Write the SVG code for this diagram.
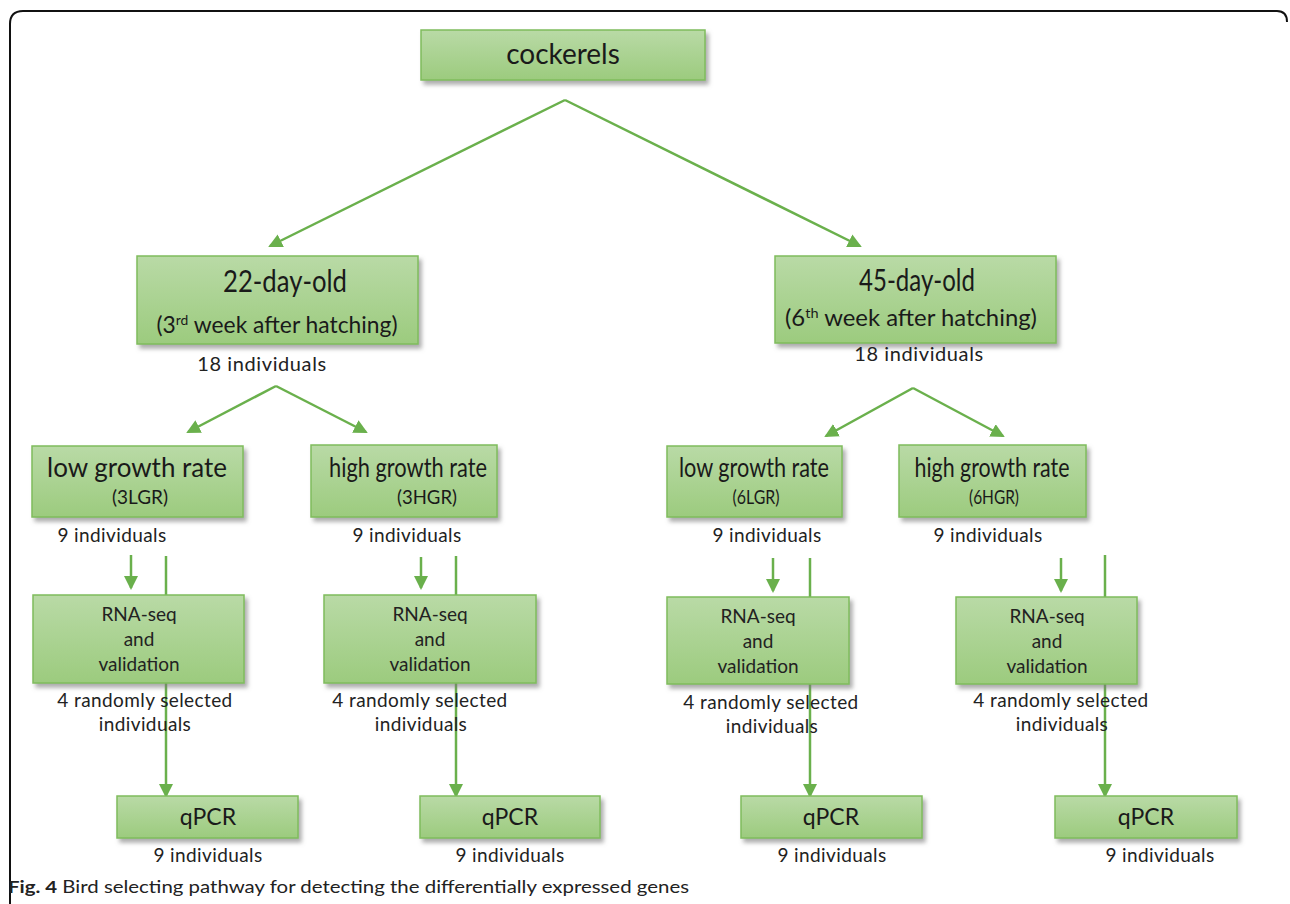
<svg xmlns="http://www.w3.org/2000/svg" width="1290" height="904" viewBox="0 0 1290 904">
<defs>
<linearGradient id="g" x1="0" y1="0" x2="0" y2="1">
<stop offset="0" stop-color="#b9daa6"/>
<stop offset="1" stop-color="#9ccb7e"/>
</linearGradient>
<filter id="sh" x="-10%" y="-10%" width="125%" height="140%">
<feDropShadow dx="3" dy="4" stdDeviation="2.2" flood-color="#777" flood-opacity="0.6"/>
</filter>
<marker id="ah" markerWidth="14" markerHeight="14" refX="12" refY="7" orient="auto" markerUnits="userSpaceOnUse">
<path d="M0,0 L14,7 L0,14 Z" fill="#6ab04c"/>
</marker>
</defs>
<style>
.box{fill:url(#g);stroke:#7fbc5c;stroke-width:1.5;filter:url(#sh)}
.t{font-family:Lato,"Open Sans",sans-serif;fill:#1a1a1a;text-anchor:middle}
.lbl{font-family:Lato,"Open Sans",sans-serif;fill:#222;text-anchor:middle;font-size:19px;letter-spacing:0.4px}
.lb2{font-family:Lato,"Open Sans",sans-serif;fill:#222;text-anchor:middle;font-size:20px;letter-spacing:0.6px}
.rn{font-family:Lato,"Open Sans",sans-serif;fill:#222;text-anchor:middle;font-size:19px}
.c{stroke:#6ab04c;stroke-width:2.5;fill:none}
.ca{stroke:#6ab04c;stroke-width:2.5;fill:none;marker-end:url(#ah)}
</style>
<rect width="1290" height="904" fill="#fff"/>
<path d="M10,904 L10,24 Q10,11 23,11 L1277,11 Q1287,11 1287,22" fill="none" stroke="#111" stroke-width="2"/>
<g id="connectors">
<line class="ca" x1="565" y1="100" x2="270" y2="246"/>
<line class="ca" x1="565" y1="100" x2="860" y2="246"/>
<line class="ca" x1="276" y1="386" x2="188" y2="432"/>
<line class="ca" x1="276" y1="386" x2="366" y2="432"/>
<line class="ca" x1="913" y1="388" x2="826" y2="436"/>
<line class="ca" x1="913" y1="388" x2="1003" y2="436"/>
<line class="ca" x1="131" y1="555" x2="131" y2="588"/>
<line class="ca" x1="421" y1="557" x2="421" y2="588"/>
<line class="ca" x1="773" y1="558" x2="773" y2="591"/>
<line class="ca" x1="1061" y1="558" x2="1061" y2="591"/>
<line class="ca" x1="166" y1="556" x2="166" y2="796"/>
<line class="ca" x1="456" y1="556" x2="456" y2="796"/>
<line class="ca" x1="810" y1="558" x2="810" y2="796"/>
<line class="ca" x1="1105" y1="555" x2="1105" y2="796"/>
</g>
<g id="cockerels">
<rect class="box" x="421" y="30" width="284" height="50"/>
<text class="t" x="563" y="64" font-size="28">cockerels</text>
</g>
<g id="day22">
<rect class="box" x="137" y="256" width="281" height="88"/>
<text class="t" x="285" y="292" font-size="30" textLength="124" lengthAdjust="spacingAndGlyphs">22-day-old</text>
<text class="t" x="277" y="333" font-size="23" textLength="241" lengthAdjust="spacingAndGlyphs">(3<tspan font-size="14" dy="-8">rd</tspan><tspan dy="8"> week after hatching)</tspan></text>
<text class="lb2" x="262" y="371">18 individuals</text>
</g>
<g id="day45">
<rect class="box" x="775" y="256" width="281" height="87"/>
<text class="t" x="917" y="291" font-size="30" textLength="116" lengthAdjust="spacingAndGlyphs">45-day-old</text>
<text class="t" x="911" y="326" font-size="23" textLength="252" lengthAdjust="spacingAndGlyphs">(6<tspan font-size="14" dy="-8">th</tspan><tspan dy="8"> week after hatching)</tspan></text>
<text class="lb2" x="919" y="361">18 individuals</text>
</g>
<g id="lgr3">
<rect class="box" x="32" y="446" width="211" height="71"/>
<text class="t" x="137" y="477" font-size="26" textLength="180" lengthAdjust="spacingAndGlyphs">low growth rate</text>
<text class="t" x="140" y="504" font-size="19" textLength="56" lengthAdjust="spacingAndGlyphs">(3LGR)</text>
<text class="lbl" x="112" y="542">9 individuals</text>
</g>
<g id="hgr3">
<rect class="box" x="311" y="445" width="186" height="72"/>
<text class="t" x="408" y="477" font-size="26" textLength="158" lengthAdjust="spacingAndGlyphs">high growth rate</text>
<text class="t" x="427" y="504" font-size="19" textLength="60" lengthAdjust="spacingAndGlyphs">(3HGR)</text>
<text class="lbl" x="407" y="542">9 individuals</text>
</g>
<g id="lgr6">
<rect class="box" x="667" y="446" width="175" height="71"/>
<text class="t" x="754" y="477" font-size="26" textLength="150" lengthAdjust="spacingAndGlyphs">low growth rate</text>
<text class="t" x="756" y="504" font-size="19" textLength="47" lengthAdjust="spacingAndGlyphs">(6LGR)</text>
<text class="lbl" x="767" y="542">9 individuals</text>
</g>
<g id="hgr6">
<rect class="box" x="899" y="445" width="187" height="72"/>
<text class="t" x="992" y="477" font-size="26" textLength="155" lengthAdjust="spacingAndGlyphs">high growth rate</text>
<text class="t" x="994" y="504" font-size="19" textLength="50" lengthAdjust="spacingAndGlyphs">(6HGR)</text>
<text class="lbl" x="988" y="542">9 individuals</text>
</g>
<g id="rna1">
<rect class="box" x="33" y="595" width="211" height="88"/>
<text class="rn" x="139" y="621">RNA-seq</text>
<text class="rn" x="139" y="646">and</text>
<text class="rn" x="139" y="671">validation</text>
<text class="lbl" x="145" y="707">4 randomly selected</text>
<text class="lbl" x="145" y="731">individuals</text>
</g>
<g id="rna2">
<rect class="box" x="324" y="595" width="212" height="88"/>
<text class="rn" x="430" y="621">RNA-seq</text>
<text class="rn" x="430" y="646">and</text>
<text class="rn" x="430" y="671">validation</text>
<text class="lbl" x="420" y="707">4 randomly selected</text>
<text class="lbl" x="421" y="731">individuals</text>
</g>
<g id="rna3">
<rect class="box" x="667" y="597" width="182" height="87"/>
<text class="rn" x="758" y="623">RNA-seq</text>
<text class="rn" x="758" y="648">and</text>
<text class="rn" x="758" y="673">validation</text>
<text class="lbl" x="771" y="709">4 randomly selected</text>
<text class="lbl" x="772" y="733">individuals</text>
</g>
<g id="rna4">
<rect class="box" x="956" y="597" width="181" height="87"/>
<text class="rn" x="1047" y="623">RNA-seq</text>
<text class="rn" x="1047" y="648">and</text>
<text class="rn" x="1047" y="673">validation</text>
<text class="lbl" x="1061" y="707">4 randomly selected</text>
<text class="lbl" x="1062" y="731">individuals</text>
</g>
<g id="qpcr1">
<rect class="box" x="117" y="796" width="181" height="42"/>
<text class="t" x="208" y="825" font-size="23">qPCR</text>
<text class="lbl" x="208" y="862">9 individuals</text>
</g>
<g id="qpcr2">
<rect class="box" x="420" y="796" width="180" height="42"/>
<text class="t" x="510" y="825" font-size="23">qPCR</text>
<text class="lbl" x="510" y="862">9 individuals</text>
</g>
<g id="qpcr3">
<rect class="box" x="741" y="796" width="181" height="42"/>
<text class="t" x="831" y="825" font-size="23">qPCR</text>
<text class="lbl" x="832" y="862">9 individuals</text>
</g>
<g id="qpcr4">
<rect class="box" x="1055" y="796" width="182" height="42"/>
<text class="t" x="1146" y="825" font-size="23">qPCR</text>
<text class="lbl" x="1160" y="862">9 individuals</text>
</g>
<text x="8" y="893" font-family="Lato,'Open Sans',sans-serif" font-size="17" fill="#222" textLength="681" lengthAdjust="spacingAndGlyphs"><tspan font-weight="bold">Fig. 4</tspan> Bird selecting pathway for detecting the differentially expressed genes</text>
</svg>
